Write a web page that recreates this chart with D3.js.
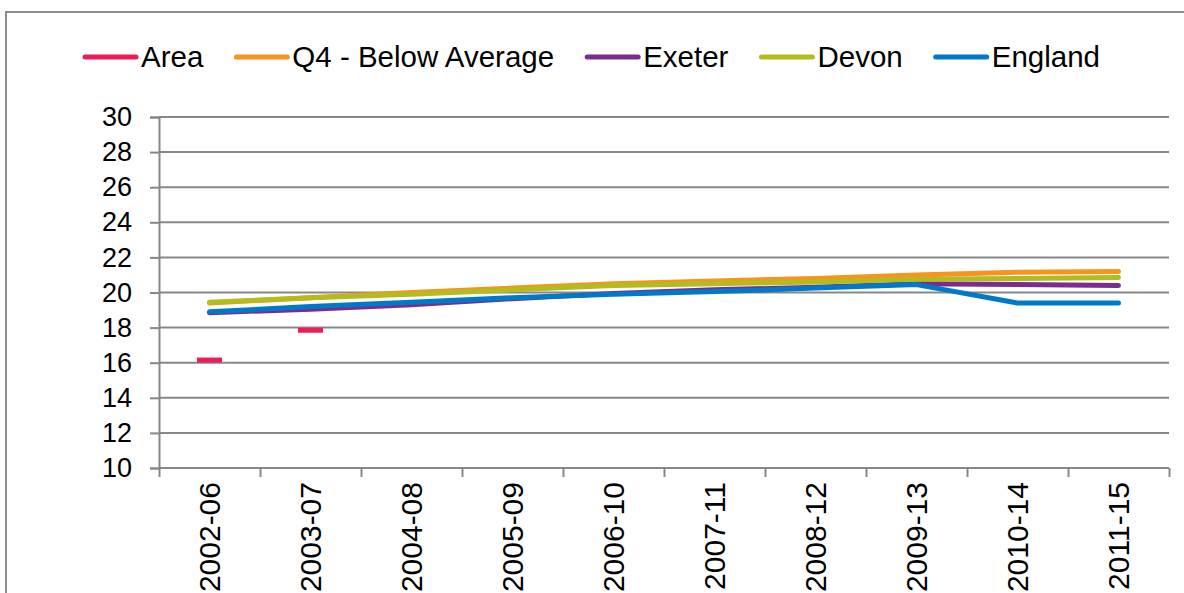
<!DOCTYPE html>
<meta charset="utf-8">
<style>
body { margin: 0; background: #fff; }
text { font-family: "Liberation Sans", Arial, sans-serif; fill: #000; }
.grid line { stroke: #878787; stroke-width: 2px; }
.axis line, .axis path { stroke: #878787; stroke-width: 2px; }
</style>
<body>
<script src="https://d3js.org/d3.v7.min.js"></script>
<script>
var width = 1184,
    height = 593;

var periods = ["2002-06", "2003-07", "2004-08", "2005-09", "2006-10",
               "2007-11", "2008-12", "2009-13", "2010-14", "2011-15"];
var yTicks = [10, 12, 14, 16, 18, 20, 22, 24, 26, 28, 30];

var area    = [16.15, 17.85, null, null, null, null, null, null, null, null];
var q4      = [19.4, 19.7, 20.0, 20.25, 20.5, 20.65, 20.8, 21.0, 21.15, 21.2];
var exeter  = [18.85, 19.05, 19.3, 19.65, 19.95, 20.15, 20.3, 20.5, 20.45, 20.4];
var devon   = [19.45, 19.7, 19.9, 20.15, 20.4, 20.5, 20.6, 20.75, 20.8, 20.85];
var england = [18.9, 19.2, 19.45, 19.7, 19.9, 20.05, 20.25, 20.45, 19.4, 19.4];

var series = [
  {name: "Area", values: area, color: "#ee1c54", dash: true},
  {name: "Q4 - Below Average", values: q4, color: "#f7941d"},
  {name: "Exeter", values: exeter, color: "#7b2c8f"},
  {name: "Devon", values: devon, color: "#b3bb1f"},
  {name: "England", values: england, color: "#0079c9"}
];

var svg = d3.select("body").append("svg")
  .attr("width", width)
  .attr("height", height);

// outer chart frame
svg.append("rect")
  .attr("x", 6).attr("y", 12)
  .attr("width", 1200).attr("height", 700)
  .attr("fill", "none")
  .attr("stroke", "#8c8c8c")
  .attr("stroke-width", 2);

var plotLeft = 159, plotRight = 1169, plotTop = 117, plotBottom = 468;

var x = d3.scaleBand().domain(periods).range([plotLeft, plotRight]);
var xi = d3.scaleLinear().domain([0, periods.length]).range([plotLeft, plotRight]);
var y = d3.scaleLinear().domain([10, 30]).range([plotBottom, plotTop]);

// gridlines
svg.append("g").attr("class", "grid")
  .selectAll("line")
  .data(yTicks.slice(1))
  .enter().append("line")
    .attr("x1", plotLeft).attr("x2", plotRight)
    .attr("y1", function(d) { return y(d); })
    .attr("y2", function(d) { return y(d); });

// y axis
var yAxis = svg.append("g").attr("class", "axis")
  .attr("transform", "translate(" + plotLeft + ",0)")
  .call(d3.axisLeft(y).tickValues(yTicks).tickSize(9).tickPadding(18));
yAxis.selectAll("text").style("font-size", "27px").attr("font-family", null);

// x axis: ticks on category boundaries
var xAxis = svg.append("g").attr("class", "axis")
  .attr("transform", "translate(0," + plotBottom + ")")
  .call(d3.axisBottom(xi).ticks(periods.length).tickSize(9).tickFormat(""));
xAxis.select(".domain").attr("d", "M" + plotLeft + ",0H" + plotRight);

svg.append("g")
  .selectAll("text")
  .data(periods)
  .enter().append("text")
    .attr("transform", function(d) {
      return "translate(" + (x(d) + x.bandwidth() / 2) + "," + (plotBottom + 14) + ") rotate(-90)";
    })
    .attr("text-anchor", "end")
    .attr("dy", "0.35em")
    .style("font-size", "30px")
    .text(function(d) { return d; });

// series
var line = d3.line()
  .defined(function(d) { return d != null; })
  .x(function(d, i) { return x(periods[i]) + x.bandwidth() / 2; })
  .y(function(d) { return y(d); });

series.forEach(function(s) {
  if (s.dash) {
    svg.append("g").selectAll("rect")
      .data(s.values.map(function(v, i) { return {v: v, p: periods[i]}; })
                    .filter(function(d) { return d.v != null; }))
      .enter().append("rect")
        .attr("x", function(d) { return x(d.p) + x.bandwidth() / 2 - 12.5; })
        .attr("y", function(d) { return y(d.v) - 2.5; })
        .attr("width", 25)
        .attr("height", 5)
        .attr("fill", s.color);
  } else {
    svg.append("path")
      .datum(s.values)
      .attr("fill", "none")
      .attr("stroke", s.color)
      .attr("stroke-width", 5)
      .attr("stroke-linecap", "round")
      .attr("stroke-linejoin", "round")
      .attr("d", line);
  }
});

// legend
var lx = 83;
var legend = svg.append("g");
series.forEach(function(s) {
  legend.append("line")
    .attr("x1", lx + 2).attr("x2", lx + 53)
    .attr("y1", 57).attr("y2", 57)
    .attr("stroke", s.color)
    .attr("stroke-width", 5)
    .attr("stroke-linecap", "round");
  var t = legend.append("text")
    .attr("x", lx + 58)
    .attr("y", 57)
    .attr("dy", "0.35em")
    .style("font-size", "29.5px")
    .text(s.name);
  lx += 58 + t.node().getComputedTextLength() + 31;
});
</script>
